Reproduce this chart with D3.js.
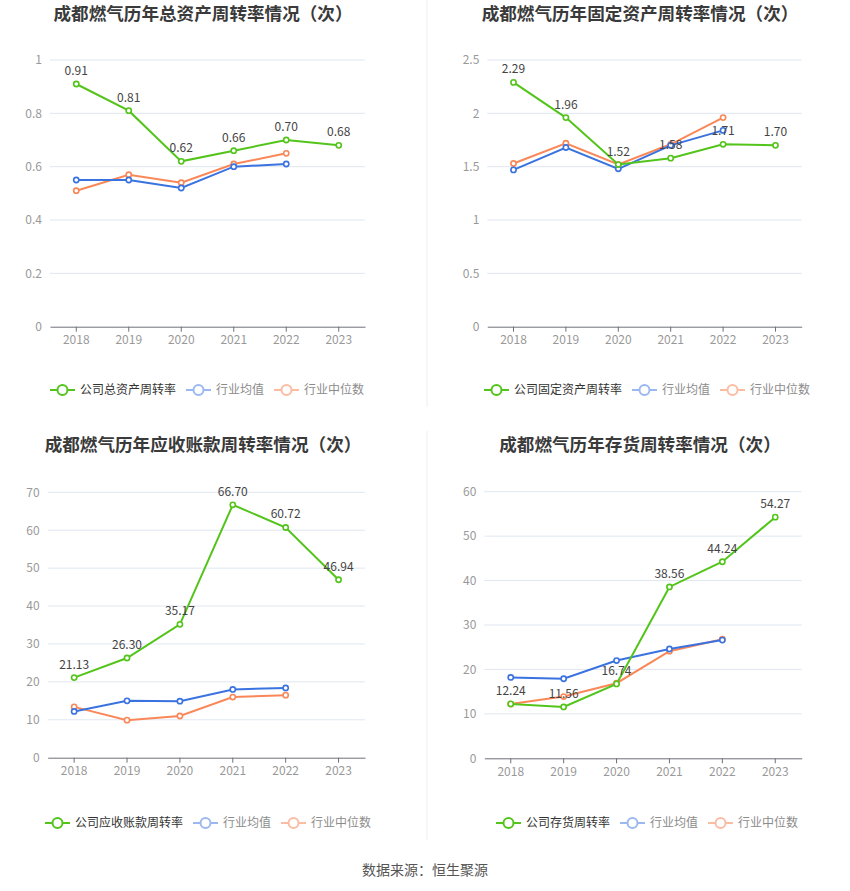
<!DOCTYPE html>
<html>
<head>
<meta charset="utf-8">
<script src="https://cdn.jsdelivr.net/npm/d3@7"></script>
<style>
  body { margin: 0; background: #fff; }
  svg text { font-family: "Noto Sans CJK SC", "Noto Sans", sans-serif; }
</style>
</head>
<body>
<div id="chart"></div>
<script>
// years on the x axis
var years = ["2018", "2019", "2020", "2021", "2022", "2023"];
var avgYears = ["2018", "2019", "2020", "2021", "2022"];

// total asset turnover
var totalCompany = [0.91, 0.81, 0.62, 0.66, 0.70, 0.68];
var totalAvg = [0.55, 0.55, 0.52, 0.60, 0.61];
var totalMedian = [0.51, 0.57, 0.54, 0.61, 0.65];

// fixed asset turnover
var fixedCompany = [2.29, 1.96, 1.52, 1.58, 1.71, 1.70];
var fixedAvg = [1.47, 1.68, 1.48, 1.70, 1.84];
var fixedMedian = [1.53, 1.72, 1.52, 1.71, 1.96];

// receivables turnover
var recvCompany = [21.13, 26.30, 35.17, 66.70, 60.72, 46.94];
var recvAvg = [12.2, 15.0, 14.9, 18.0, 18.4];
var recvMedian = [13.4, 9.9, 11.0, 16.0, 16.5];

// inventory turnover
var invCompany = [12.24, 11.56, 16.74, 38.56, 44.24, 54.27];
var invAvg = [18.2, 17.9, 22.0, 24.6, 26.6];
var invMedian = [12.2, 13.9, 16.9, 24.1, 26.8];

var legendAvg = "行业均值";
var legendMedian = "行业中位数";

var colors = { company: "#52c41a", avg: "#3a72e0", median: "#fa8758" };
var legendColors = { company: "#52c41a", avg: "#9bb8f0", median: "#fbbca2" };

var svg = d3.select("#chart")
    .append("svg")
    .attr("width", 850)
    .attr("height", 891);

// divider lines between the two columns
svg.append("line").attr("x1", 427).attr("x2", 427).attr("y1", 0).attr("y2", 407)
    .attr("stroke", "#eeeeee");
svg.append("line").attr("x1", 427).attr("x2", 427).attr("y1", 431).attr("y2", 840)
    .attr("stroke", "#eeeeee");

var panels = [
    { title: "成都燃气历年总资产周转率情况（次）", legend: "公司总资产周转率",
      company: totalCompany, avg: totalAvg, median: totalMedian,
      max: 1, step: 0.2,
      x0: 50, x1: 365, top: 60, bottom: 326.7, titleX: 203, titleY: 14, legendX: 207, legendY: 390 },
    { title: "成都燃气历年固定资产周转率情况（次）", legend: "公司固定资产周转率",
      company: fixedCompany, avg: fixedAvg, median: fixedMedian,
      max: 2.5, step: 0.5,
      x0: 487.3, x1: 801.7, top: 60, bottom: 326.7, titleX: 640, titleY: 14, legendX: 647, legendY: 390 },
    { title: "成都燃气历年应收账款周转率情况（次）", legend: "公司应收账款周转率",
      company: recvCompany, avg: recvAvg, median: recvMedian,
      max: 70, step: 10,
      x0: 47.7, x1: 365, top: 492.3, bottom: 757.7, titleX: 203, titleY: 445, legendX: 208, legendY: 823 },
    { title: "成都燃气历年存货周转率情况（次）", legend: "公司存货周转率",
      company: invCompany, avg: invAvg, median: invMedian,
      max: 60, step: 10,
      x0: 484.3, x1: 801.7, top: 491.7, bottom: 758.3, titleX: 640, titleY: 445, legendX: 647, legendY: 823 }
];

function drawPanel(p) {
    var g = svg.append("g");

    var x = d3.scaleBand().domain(years).range([p.x0, p.x1]);
    var y = d3.scaleLinear().domain([0, p.max]).range([p.bottom, p.top]);
    var ticks = d3.range(0, p.max + p.step / 2, p.step);
    var cx = d => x(d) + x.bandwidth() / 2;

    // title
    g.append("text")
        .attr("x", p.titleX)
        .attr("y", p.titleY)
        .attr("dy", "0.35em")
        .attr("text-anchor", "middle")
        .attr("font-size", "17.6px")
        .attr("font-weight", "bold")
        .attr("fill", "#3a3a3a")
        .text(p.title);

    // grid lines
    g.selectAll(".grid")
        .data(ticks.slice(1))
        .enter()
        .append("line")
        .attr("x1", p.x0)
        .attr("x2", p.x1)
        .attr("y1", d => y(d))
        .attr("y2", d => y(d))
        .attr("stroke", "#e0e6f1");

    // y axis labels
    var yAxis = g.append("g")
        .attr("transform", `translate(${p.x0}, 0)`)
        .call(d3.axisLeft(y).tickValues(ticks).tickSize(0).tickPadding(8).tickFormat(d3.format("~g")));
    yAxis.select(".domain").remove();
    yAxis.selectAll("text").attr("fill", "#999").attr("font-size", "12px");

    // x axis
    var xAxis = g.append("g")
        .attr("transform", `translate(0, ${p.bottom})`)
        .call(d3.axisBottom(x).tickSizeInner(5).tickSizeOuter(0).tickPadding(4));
    xAxis.select(".domain").attr("stroke", "#6e7079");
    xAxis.selectAll(".tick line").attr("stroke", "#6e7079");
    xAxis.selectAll("text").attr("fill", "#999").attr("font-size", "12px");

    var line = d3.line().x(d => cx(d.year)).y(d => y(d.value));

    function series(values, cats, color) {
        var pts = values.map((v, i) => ({ year: cats[i], value: v }));
        g.append("path")
            .datum(pts)
            .attr("d", line)
            .attr("fill", "none")
            .attr("stroke", color)
            .attr("stroke-width", 2);
        g.selectAll(null)
            .data(pts)
            .enter()
            .append("circle")
            .attr("cx", d => cx(d.year))
            .attr("cy", d => y(d.value))
            .attr("r", 2.6)
            .attr("fill", "#fff")
            .attr("stroke", color)
            .attr("stroke-width", 1.6);
        return pts;
    }

    series(p.median, avgYears, colors.median);
    series(p.avg, avgYears, colors.avg);
    var companyPts = series(p.company, years, colors.company);

    // value labels on the company series
    g.selectAll(null)
        .data(companyPts)
        .enter()
        .append("text")
        .attr("x", d => cx(d.year))
        .attr("y", d => y(d.value) - 9)
        .attr("text-anchor", "middle")
        .attr("font-size", "12px")
        .attr("fill", "#444")
        .text(d => d.value.toFixed(2));

    // legend
    var items = [
        { label: p.legend, color: legendColors.company, text: "#333" },
        { label: legendAvg, color: legendColors.avg, text: "#8c8c8c" },
        { label: legendMedian, color: legendColors.median, text: "#8c8c8c" }
    ];
    var lg = g.append("g");
    var cursor = 0;
    items.forEach(function(it) {
        var ig = lg.append("g").attr("transform", `translate(${cursor}, 0)`);
        ig.append("line").attr("x1", 0).attr("x2", 25).attr("y1", 0).attr("y2", 0)
            .attr("stroke", it.color).attr("stroke-width", 2);
        ig.append("circle").attr("cx", 12.5).attr("cy", 0).attr("r", 5)
            .attr("fill", "#fff").attr("stroke", it.color).attr("stroke-width", 2);
        var t = ig.append("text").attr("x", 30).attr("y", 0).attr("dy", "0.35em")
            .attr("font-size", "12px").attr("fill", it.text).text(it.label);
        cursor += 30 + t.node().getComputedTextLength() + 10;
    });
    var total = cursor - 10;
    lg.attr("transform", `translate(${p.legendX - total / 2}, ${p.legendY})`);
}

panels.forEach(drawPanel);

// source note
svg.append("text")
    .attr("x", 425)
    .attr("y", 870)
    .attr("dy", "0.35em")
    .attr("text-anchor", "middle")
    .attr("font-size", "14px")
    .attr("fill", "#555")
    .text("数据来源：恒生聚源");
</script>
</body>
</html>
